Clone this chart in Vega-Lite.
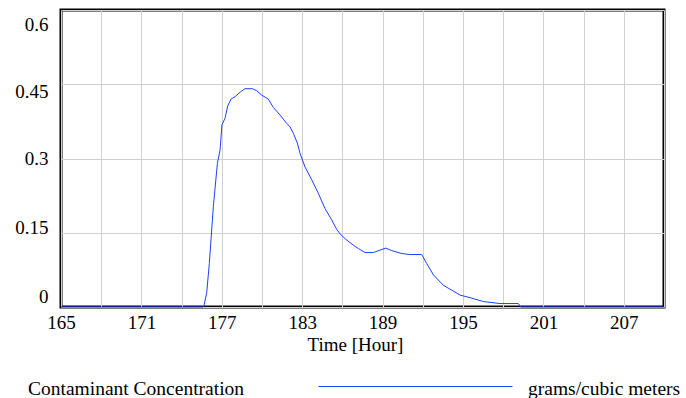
{
  "$schema": "https://vega.github.io/schema/vega-lite/v6.json",
  "width": 603,
  "height": 297,
  "autosize": "none",
  "padding": {"left": 61, "top": 10, "right": 22, "bottom": 91},
  "background": "white",
  "config": {
    "view": {"stroke": "black", "strokeWidth": 3},
    "axis": {
      "labelFont": "Liberation Serif",
      "titleFont": "Liberation Serif",
      "labelColor": "black",
      "titleColor": "black",
      "titleFontWeight": "normal",
      "gridColor": "#d0d0d0",
      "gridWidth": 1,
      "ticks": false,
      "domain": false
    }
  },
  "data": {
    "values": [
      {"t": 165, "v": 0},
      {"t": 175.6, "v": 0},
      {"t": 175.67, "v": 0.003},
      {"t": 175.87, "v": 0.028},
      {"t": 176.07, "v": 0.088},
      {"t": 176.37, "v": 0.203},
      {"t": 176.67, "v": 0.29},
      {"t": 176.87, "v": 0.317},
      {"t": 177.01, "v": 0.368},
      {"t": 177.24, "v": 0.381},
      {"t": 177.44, "v": 0.406},
      {"t": 177.69, "v": 0.42},
      {"t": 177.99, "v": 0.425},
      {"t": 178.41, "v": 0.435},
      {"t": 178.73, "v": 0.441},
      {"t": 179.28, "v": 0.441},
      {"t": 179.6, "v": 0.437},
      {"t": 179.98, "v": 0.428},
      {"t": 180.47, "v": 0.42},
      {"t": 180.85, "v": 0.403},
      {"t": 181.34, "v": 0.388},
      {"t": 181.84, "v": 0.371},
      {"t": 182.09, "v": 0.364},
      {"t": 182.34, "v": 0.351},
      {"t": 182.64, "v": 0.331},
      {"t": 182.84, "v": 0.31},
      {"t": 183.21, "v": 0.283},
      {"t": 183.71, "v": 0.257},
      {"t": 184.2, "v": 0.23},
      {"t": 184.7, "v": 0.199},
      {"t": 185.2, "v": 0.176},
      {"t": 185.57, "v": 0.157},
      {"t": 185.85, "v": 0.147},
      {"t": 186.2, "v": 0.138},
      {"t": 186.57, "v": 0.13},
      {"t": 186.81, "v": 0.125},
      {"t": 187.2, "v": 0.118},
      {"t": 187.69, "v": 0.11},
      {"t": 188.31, "v": 0.11},
      {"t": 188.81, "v": 0.115},
      {"t": 189.23, "v": 0.119},
      {"t": 189.68, "v": 0.114},
      {"t": 190.43, "v": 0.108},
      {"t": 191.04, "v": 0.106},
      {"t": 191.92, "v": 0.106},
      {"t": 192.29, "v": 0.088},
      {"t": 192.79, "v": 0.065},
      {"t": 193.53, "v": 0.044},
      {"t": 194.16, "v": 0.034},
      {"t": 194.78, "v": 0.024},
      {"t": 195.52, "v": 0.019},
      {"t": 196.52, "v": 0.011},
      {"t": 197.76, "v": 0.007},
      {"t": 199.13, "v": 0.007},
      {"t": 199.3, "v": 0},
      {"t": 210, "v": 0}
    ]
  },
  "mark": {"type": "line", "strokeWidth": 1, "interpolate": "linear"},
  "encoding": {
    "x": {
      "field": "t",
      "type": "quantitative",
      "scale": {"domain": [165, 210], "nice": false, "zero": false},
      "axis": {
        "values": [165, 168, 171, 174, 177, 180, 183, 186, 189, 192, 195, 198, 201, 204, 207, 210],
        "labelExpr": "datum.value % 6 == 3 ? datum.label : ''",
        "title": "Time [Hour]",
        "labelFontSize": 19,
        "titleFontSize": 19,
        "labelPadding": 6,
        "titlePadding": 3,
        "titleX": 294,
        "labelFlush": false,
        "labelOverlap": false
      }
    },
    "y": {
      "field": "v",
      "type": "quantitative",
      "scale": {"domain": [0, 0.6], "nice": false},
      "axis": {
        "values": [0, 0.15, 0.3, 0.45, 0.6],
        "format": ".2~f",
        "title": null,
        "labelFontSize": 19,
        "labelPadding": 13,
        "labelFlush": false,
        "labelOverlap": false,
        "labelOffset": {
          "condition": [
            {"test": "datum.value == 0", "value": -11},
            {"test": "datum.value == 0.15", "value": -5},
            {"test": "datum.value == 0.45", "value": 7},
            {"test": "datum.value == 0.6", "value": 14}
          ],
          "value": 0
        }
      }
    },
    "color": {
      "datum": "grams/cubic meters",
      "type": "nominal",
      "scale": {"range": ["#1e40ff"]},
      "legend": {
        "orient": "none",
        "legendX": -33,
        "legendY": 368.5,
        "direction": "horizontal",
        "title": "Contaminant Concentration",
        "titleOrient": "left",
        "titleFont": "Liberation Serif",
        "titleFontSize": 19.5,
        "titleFontWeight": "normal",
        "titleColor": "black",
        "titlePadding": 160,
        "titleLimit": 400,
        "labelFont": "Liberation Serif",
        "labelFontSize": 19.5,
        "labelColor": "black",
        "labelOffset": 102,
        "labelLimit": 300,
        "symbolType": "M-9.7,-0.25H9.7",
        "symbolSize": 400,
        "symbolStrokeWidth": 1,
        "symbolStrokeColor": "#1e40ff",
        "symbolFillColor": "transparent",
        "padding": 0
      }
    }
  }
}
